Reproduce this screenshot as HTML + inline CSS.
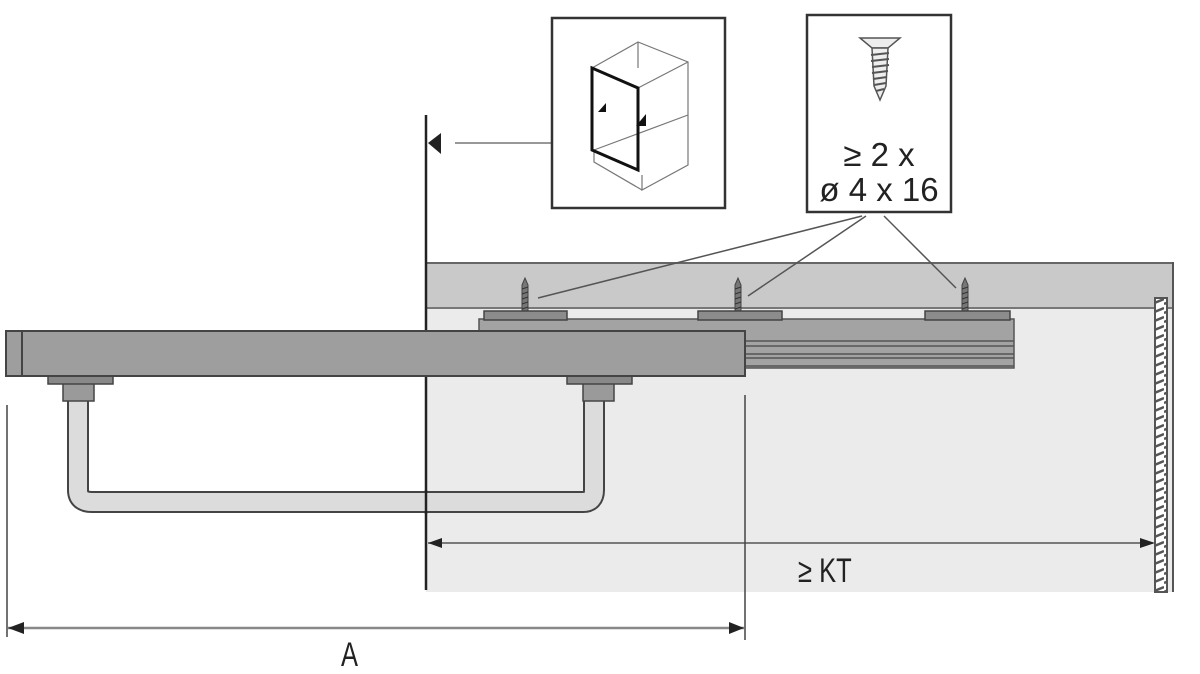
<!DOCTYPE html>
<html><head><meta charset="utf-8"><style>
html,body{margin:0;padding:0;background:#fff;}
svg{display:block;}
text{font-family:"Liberation Sans",sans-serif;fill:#222;}
</style></head><body>
<svg width="1200" height="674" viewBox="0 0 1200 674" xmlns="http://www.w3.org/2000/svg">
<defs>
<pattern id="hatch" width="12" height="9" patternUnits="userSpaceOnUse">
<rect width="12" height="9" fill="#fff"/>
<path d="M0 7 L12 2" stroke="#555" stroke-width="2.5"/>
</pattern>
<g id="screw">
<path d="M-3 -30 L0 -37 L3 -30 L3 -4 L-3 -4 Z" fill="#777" stroke="#444" stroke-width="1"/>
<path d="M-3 -26 L3 -28 M-3 -21 L3 -23 M-3 -16 L3 -18 M-3 -11 L3 -13 M-3 -6 L3 -8" stroke="#333" stroke-width="1"/>
<rect x="-3" y="-4" width="6" height="5" fill="#fff"/>
</g>
</defs>
<!-- cabinet -->
<rect x="426" y="262" width="746" height="330" fill="#ebebeb"/>
<rect x="426" y="262" width="746" height="46" fill="#c9c9c9"/>
<line x1="426" y1="263" x2="1173" y2="263" stroke="#666" stroke-width="2"/>
<line x1="426" y1="308" x2="1173" y2="308" stroke="#777" stroke-width="2"/>
<line x1="1173" y1="262" x2="1173" y2="592" stroke="#555" stroke-width="2"/>
<rect x="1155" y="298" width="12" height="294" fill="url(#hatch)" stroke="#555" stroke-width="2"/>
<!-- leader lines -->
<line x1="862" y1="216" x2="538" y2="298" stroke="#555" stroke-width="1.5"/>
<line x1="866" y1="216" x2="748" y2="296" stroke="#555" stroke-width="1.5"/>
<line x1="884" y1="216" x2="956" y2="288" stroke="#555" stroke-width="1.5"/>
<!-- screws -->
<use href="#screw" x="525" y="315"/>
<use href="#screw" x="738" y="315"/>
<use href="#screw" x="965" y="315"/>
<!-- rail -->
<rect x="479" y="319" width="535" height="49" fill="#a3a3a3" stroke="#555" stroke-width="1.5"/>
<rect x="484" y="311" width="83" height="9" fill="#8c8c8c" stroke="#444" stroke-width="1.5"/>
<rect x="698" y="311" width="84" height="9" fill="#8c8c8c" stroke="#444" stroke-width="1.5"/>
<rect x="925" y="311" width="85" height="9" fill="#8c8c8c" stroke="#444" stroke-width="1.5"/>
<path d="M745 341 H1014 M745 346 H1014 M745 354 H1014 M745 358 H1014 M745 366 H1014" stroke="#555" stroke-width="1.5"/>
<!-- vertical front line -->
<line x1="426" y1="115" x2="426" y2="590" stroke="#222" stroke-width="2.5"/>
<path d="M428 143 L441 133 L441 154 Z" fill="#222"/>
<line x1="455" y1="143" x2="552" y2="143" stroke="#777" stroke-width="1.5"/>
<!-- handle -->
<path d="M78 398 V490 Q78 502 92 502 H583 Q594 502 594 490 V398" fill="none" stroke="#444" stroke-width="22"/>
<path d="M78 398 V490 Q78 502 92 502 H583 Q594 502 594 490 V398" fill="none" stroke="#dcdcdc" stroke-width="18"/>
<line x1="426" y1="490" x2="426" y2="514" stroke="#222" stroke-width="2.5"/>
<rect x="63" y="383" width="31" height="18" fill="#9a9a9a" stroke="#444" stroke-width="1.5"/>
<rect x="583" y="383" width="31" height="18" fill="#9a9a9a" stroke="#444" stroke-width="1.5"/>
<rect x="48" y="376" width="65" height="8" fill="#888" stroke="#444" stroke-width="1.5"/>
<rect x="567" y="376" width="65" height="8" fill="#888" stroke="#444" stroke-width="1.5"/>
<!-- drawer bar -->
<rect x="6" y="331" width="739" height="45" fill="#9e9e9e" stroke="#444" stroke-width="2"/>
<line x1="22" y1="331" x2="22" y2="376" stroke="#444" stroke-width="2"/>
<!-- box 1 -->
<rect x="552" y="18" width="173" height="190" fill="#fff" stroke="#333" stroke-width="2.5"/>
<g fill="none" stroke="#777" stroke-width="1.2">
<path d="M592 68 L638 42 L688 62 L688 165 L642 190 L642 175"/>
<path d="M638 42 L638 68 M592 68 L638 88 L688 62"/>
<path d="M594 150 L594 162 L642 190 M594 150 L688 115"/>
</g>
<path d="M592 68 L638 88 L638 170 L592 150 Z" fill="none" stroke="#111" stroke-width="3"/>
<path d="M598 112 L606 103 L606 112 Z M636 126 L646 114 L646 126 Z" fill="#111"/>
<!-- box 2 -->
<rect x="807" y="15" width="144" height="197" fill="#fff" stroke="#333" stroke-width="2.5"/>
<path d="M860 38 L900 38 L888 48 L872 48 Z" fill="#eee" stroke="#555" stroke-width="1.5"/>
<path d="M872 48 L888 48 L886 86 L880 100 L874 86 Z" fill="#eee" stroke="#555" stroke-width="1.5"/>
<path d="M871 55 L889 53 M871 61 L889 59 M872 67 L889 65 M872 73 L888 71 M873 79 L887 77 M874 85 L886 83 M876 91 L884 89" stroke="#555" stroke-width="2"/>
<text x="879" y="166" font-size="33" text-anchor="middle" fill="#333">≥ 2 x</text>
<text x="879" y="201" font-size="33" text-anchor="middle" fill="#333">ø 4 x 16</text>
<!-- dimensions -->
<line x1="428" y1="543" x2="1153" y2="543" stroke="#555" stroke-width="1.5"/>
<path d="M428 543 L442 538 L442 548 Z" fill="#222"/>
<path d="M1155 543 L1140 538 L1140 548 Z" fill="#222"/>
<line x1="745" y1="395" x2="745" y2="640" stroke="#444" stroke-width="1.5"/>
<line x1="7" y1="405" x2="7" y2="637" stroke="#444" stroke-width="1.5"/>
<line x1="8" y1="628" x2="744" y2="628" stroke="#888" stroke-width="2.5"/>
<path d="M8 628 L24 622 L24 634 Z" fill="#222"/>
<path d="M744 628 L729 622 L729 634 Z" fill="#222"/>
<text x="0" y="0" font-size="34" transform="translate(798 582) scale(0.75 1)">≥ KT</text>
<text x="0" y="0" font-size="34" transform="translate(341 666) scale(0.75 1)">A</text>
</svg>
</body></html>
